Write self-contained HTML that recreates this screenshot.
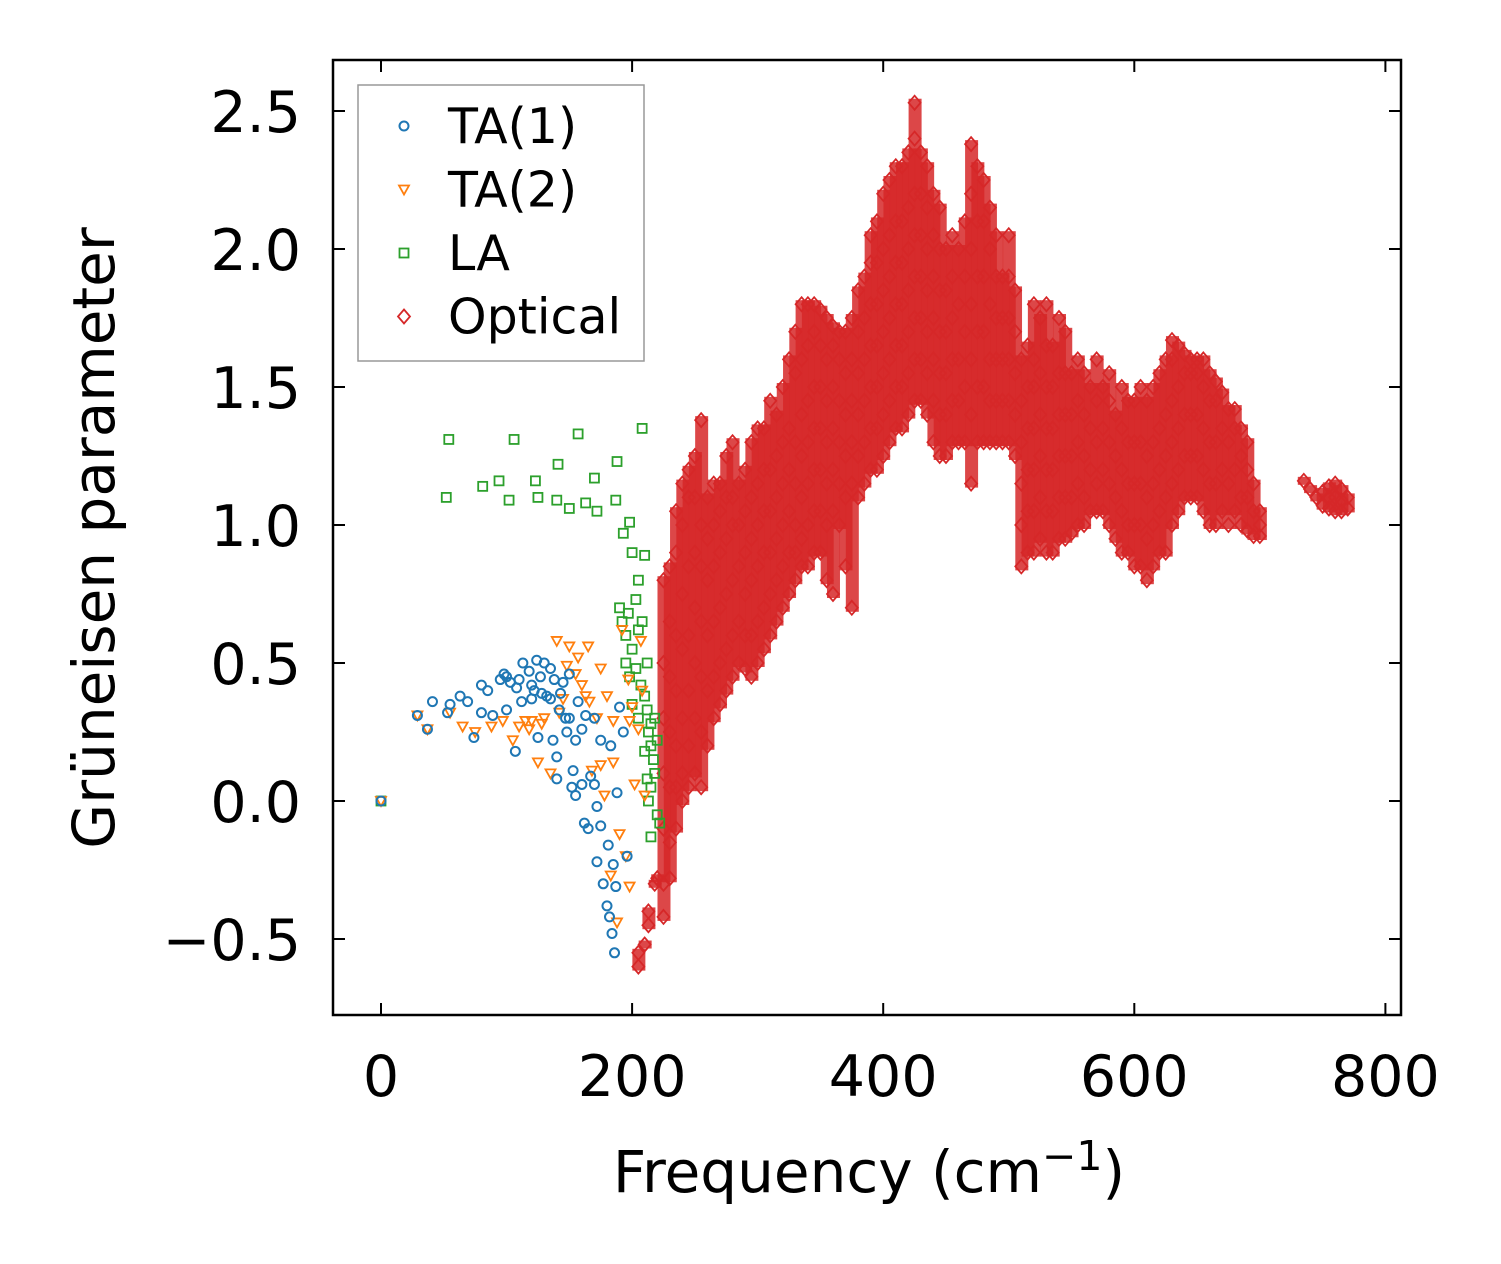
<!DOCTYPE html>
<html><head><meta charset="utf-8">
<style>
html,body{margin:0;padding:0;background:#fff;}
svg{display:block;font-family:"DejaVu Sans","Liberation Sans",sans-serif;}
</style></head>
<body>
<svg id="chart" width="1501" height="1264" viewBox="0 0 1501 1264" xmlns="http://www.w3.org/2000/svg">
<rect x="0" y="0" width="1501" height="1264" fill="#fff"/>
<g id="bands"></g>
<g id="marks"></g>
<rect x="333" y="60" width="1068" height="955" fill="none" stroke="#000" stroke-width="2.5"/>
<g id="axes"></g>
<text x="869" y="1192" font-size="58" text-anchor="middle">Frequency (cm<tspan dy="-22" font-size="41">−1</tspan><tspan dy="22">)</tspan></text>
<text transform="translate(114,538) rotate(-90)" font-size="58" text-anchor="middle">Grüneisen parameter</text>
<g>
<rect x="358" y="85" width="286" height="276" fill="#fff" stroke="#999" stroke-width="1.5"/>
<g id="legend"></g>
</g>
</svg>
<script>
const xTicks = [0,200,400,600,800];
const yTicks = [-0.5,0,0.5,1.0,1.5,2.0,2.5];
const yTickLabels = ["−0.5","0.0","0.5","1.0","1.5","2.0","2.5"];
const seriesNames = ["TA(1)","TA(2)","LA","Optical"];
const ta1 = [[0,0],[29,0.31],[37,0.26],[41,0.36],[53,0.32],[55,0.35],[63,0.38],[69,0.36],[74,0.23],[80,0.42],[80,0.32],[85,0.40],[89,0.31],[95,0.44],[98,0.46],[100,0.33],[103,0.43],[107,0.18],[108,0.41],[112,0.36],[113,0.50],[118,0.47],[120,0.42],[122,0.40],[124,0.51],[125,0.23],[127,0.45],[130,0.50],[132,0.38],[135,0.48],[137,0.22],[138,0.44],[140,0.16],[140,0.08],[142,0.33],[145,0.43],[147,0.30],[148,0.25],[150,0.46],[152,0.05],[153,0.11],[155,0.02],[157,0.36],[160,0.06],[162,-0.08],[163,0.31],[165,-0.10],[167,0.09],[170,0.06],[172,-0.02],[172,-0.22],[175,-0.09],[175,0.22],[177,-0.30],[180,-0.38],[181,-0.16],[182,-0.42],[183,0.20],[184,-0.48],[185,-0.23],[186,-0.55],[187,-0.31],[188,0.03],[190,0.34],[193,0.25],[196,-0.20],[100,0.45],[110,0.44],[120,0.37],[128,0.39],[135,0.37],[143,0.39],[150,0.30],[160,0.26],[155,0.22],[170,0.30]];
const ta2 = [[0,0],[29,0.31],[37,0.26],[55,0.32],[65,0.27],[75,0.25],[88,0.27],[97,0.29],[105,0.22],[110,0.27],[118,0.26],[120,0.29],[125,0.14],[128,0.28],[135,0.10],[140,0.58],[142,0.32],[148,0.49],[150,0.56],[155,0.46],[157,0.52],[160,0.42],[163,0.38],[165,0.56],[168,0.11],[172,0.30],[175,0.48],[178,0.02],[180,0.38],[183,-0.27],[185,0.14],[188,-0.44],[190,-0.12],[192,0.62],[195,-0.20],[197,0.44],[198,-0.31],[200,0.34],[202,0.06],[205,0.26],[207,0.58],[208,0.40],[210,0.02],[198,0.29],[185,0.29],[175,0.13],[166,0.36],[130,0.30],[115,0.29],[145,0.37]];
const la = [[0,0],[52,1.10],[54,1.31],[81,1.14],[94,1.16],[102,1.09],[106,1.31],[123,1.16],[125,1.10],[140,1.09],[141,1.22],[150,1.06],[157,1.33],[163,1.08],[170,1.17],[172,1.05],[187,1.09],[188,1.23],[193,0.97],[198,1.01],[208,1.35],[200,0.90],[210,0.89],[205,0.80],[203,0.73],[190,0.70],[192,0.65],[195,0.60],[200,0.55],[198,0.45],[203,0.48],[207,0.42],[210,0.38],[212,0.33],[215,0.28],[215,0.20],[217,0.15],[218,0.10],[215,0.05],[213,0.00],[220,-0.05],[222,-0.08],[215,-0.13],[213,0.25],[212,0.50],[205,0.62],[197,0.68],[200,0.35],[205,0.30],[210,0.18],[212,0.08],[220,0.22],[218,0.30],[208,0.65],[195,0.50]];
const optical = [
[205,-0.6,-0.55],[210,-0.52],[213,-0.45,-0.40],[218,-0.30],[220,-0.28],
[225,-0.42,-0.3,-0.1,0.1,0.3,0.5,0.8],[230,-0.28,-0.15,0.05,0.25,0.45,0.65,0.85],[235,-0.1,0.05,0.2,0.4,0.6,0.9,1.05],
[240,0.0,0.1,0.3,0.55,0.75,1.0,1.15],[245,0.05,0.2,0.4,0.6,0.85,1.1,1.2],[250,0.1,0.3,0.5,0.7,0.9,1.1,1.25],
[255,0.05,0.25,0.45,0.65,0.85,1.0,1.38],[260,0.2,0.4,0.6,0.8,0.95,1.1],[265,0.3,0.45,0.65,0.85,1.0,1.15],
[270,0.35,0.5,0.7,0.9,1.05,1.15],[275,0.4,0.55,0.75,0.95,1.1,1.25],[280,0.45,0.6,0.8,1.0,1.1,1.3],
[285,0.5,0.65,0.85,1.0,1.15],[290,0.48,0.6,0.75,0.9,1.05,1.2],[295,0.45,0.6,0.8,0.95,1.1,1.3],
[300,0.5,0.65,0.85,1.0,1.15,1.35],[305,0.55,0.7,0.9,1.05,1.2,1.35],[310,0.6,0.75,0.9,1.05,1.2,1.45],
[315,0.65,0.8,0.95,1.1,1.25,1.4],[320,0.7,0.85,1.0,1.15,1.3,1.5],[325,0.75,0.9,1.05,1.2,1.35,1.6],
[330,0.8,0.9,1.0,1.15,1.3,1.55,1.7],[335,0.85,0.95,1.1,1.25,1.4,1.6,1.8],[340,0.85,1.0,1.15,1.3,1.45,1.65,1.8],
[345,0.9,1.05,1.2,1.35,1.5,1.7,1.8],[350,0.9,1.05,1.2,1.35,1.5,1.65,1.78],[355,0.8,1.0,1.15,1.3,1.45,1.6,1.75],
[360,0.75,1.05,1.2,1.35,1.5,1.65,1.72],[365,1.0,1.15,1.3,1.45,1.6,1.7],[370,0.85,1.1,1.25,1.4,1.55,1.7],
[375,0.7,1.15,1.3,1.45,1.6,1.75],[380,1.1,1.25,1.4,1.55,1.7,1.85],[385,1.15,1.3,1.45,1.6,1.75,1.9],
[390,1.2,1.35,1.5,1.65,1.8,1.95,2.05],[395,1.2,1.35,1.5,1.65,1.8,1.95,2.1],[400,1.25,1.4,1.55,1.7,1.85,2.0,2.2],
[405,1.3,1.45,1.6,1.75,1.9,2.05,2.25],[410,1.35,1.5,1.65,1.8,1.95,2.1,2.3],[415,1.35,1.5,1.65,1.8,1.95,2.1,2.3],
[420,1.4,1.55,1.7,1.85,2.0,2.15,2.35],[425,1.45,1.6,1.75,1.9,2.05,2.2,2.4,2.53],[430,1.45,1.6,1.75,1.9,2.05,2.2,2.35],
[435,1.4,1.55,1.7,1.85,2.0,2.15,2.3],[440,1.3,1.45,1.6,1.75,1.9,2.05,2.2],[445,1.25,1.4,1.55,1.7,1.85,2.0,2.15],
[450,1.25,1.4,1.55,1.7,1.85,2.0],[455,1.3,1.45,1.6,1.75,1.9,2.05],[460,1.3,1.45,1.6,1.8,2.0],
[465,1.3,1.5,1.7,1.9,2.1],[470,1.15,1.4,1.6,1.8,2.0,2.2,2.38],[475,1.3,1.5,1.7,1.9,2.1,2.3],
[480,1.3,1.5,1.7,1.9,2.1,2.25],[485,1.3,1.45,1.6,1.8,2.0,2.15],[490,1.3,1.45,1.6,1.75,1.9,2.05],
[495,1.3,1.45,1.6,1.75,1.9],[500,1.3,1.45,1.6,1.75,1.9,2.05],[505,1.25,1.4,1.55,1.7,1.85],
[510,0.85,1.0,1.15,1.3,1.45,1.6],[515,0.9,1.05,1.2,1.35,1.5,1.65],[520,0.9,1.05,1.2,1.35,1.5,1.6,1.8],
[525,0.95,1.1,1.25,1.4,1.55,1.75],[530,0.9,1.05,1.2,1.35,1.5,1.65,1.8],[535,0.9,1.05,1.2,1.35,1.5,1.65],
[540,0.95,1.1,1.25,1.4,1.55,1.75],[545,0.95,1.1,1.25,1.4,1.55,1.7],[550,0.97,1.1,1.25,1.4,1.55],
[555,1.0,1.15,1.3,1.45,1.6],[560,1.0,1.1,1.25,1.4,1.55],[565,1.05,1.2,1.35,1.5],
[570,1.05,1.15,1.3,1.45,1.6],[575,1.05,1.2,1.35,1.5],[580,1.0,1.15,1.3,1.45,1.55],
[585,0.95,1.1,1.25,1.4],[590,0.9,1.05,1.2,1.35,1.5],[595,0.9,1.0,1.15,1.3,1.45],
[600,0.85,1.0,1.15,1.3,1.45],[605,0.85,1.0,1.15,1.3,1.5],[610,0.8,0.95,1.1,1.25,1.45],
[615,0.85,1.0,1.15,1.3,1.5],[620,0.9,1.05,1.2,1.35,1.55],[625,0.9,1.1,1.25,1.4,1.6],
[630,1.0,1.15,1.3,1.45,1.6,1.67],[635,1.05,1.2,1.35,1.5,1.65],[640,1.1,1.25,1.4,1.55,1.62],
[645,1.1,1.25,1.4,1.55,1.6],[650,1.1,1.25,1.4,1.55,1.6],[655,1.05,1.2,1.35,1.5,1.6],
[660,1.0,1.15,1.3,1.45,1.55],[665,1.0,1.15,1.3,1.45,1.52],[670,1.05,1.2,1.35,1.48],
[675,1.0,1.15,1.3,1.42],[680,1.05,1.2,1.35,1.42],[685,1.0,1.1,1.25,1.35],
[690,0.98,1.1,1.2,1.3],[695,0.96,1.05,1.15],[700,0.96,1.0,1.05],
[735,1.16],[740,1.13],[745,1.10],[750,1.07,1.12],[755,1.06,1.1,1.14],[760,1.05,1.1,1.15],[765,1.05,1.09,1.13],[770,1.06,1.1]
];
const colors = ["#1f77b4","#ff7f0e","#2ca02c","#d62728"];

const NS = "http://www.w3.org/2000/svg";
function xs(v){ return 381 + v * 1.2555; }
function ys(v){ return 801 - v * 276; }
function mk(tag, attrs, parent){ const e = document.createElementNS(NS, tag); for (const k in attrs) e.setAttribute(k, attrs[k]); parent.appendChild(e); return e; }
function marker(kind, cx, cy, color, parent){
  let e;
  if (kind === 0) e = mk("circle", {cx:cx, cy:cy, r:4.5, fill:"none", stroke:color, "stroke-width":2}, parent);
  else if (kind === 1) e = mk("polygon", {points:`${cx-5},${cy-4} ${cx+5},${cy-4} ${cx},${cy+5}`, fill:"none", stroke:color, "stroke-width":1.8}, parent);
  else if (kind === 2) e = mk("rect", {x:cx-4.5, y:cy-4.5, width:9, height:9, fill:"none", stroke:color, "stroke-width":1.8}, parent);
  else e = mk("polygon", {points:`${cx},${cy-7} ${cx+6},${cy} ${cx},${cy+7} ${cx-6},${cy}`, fill:"none", stroke:color, "stroke-width":1.8}, parent);
  return e;
}
const bands = document.getElementById("bands");
const marks = document.getElementById("marks");
optical.forEach(col => {
  const f = col[0]; const g = col.slice(1);
  const lo = Math.min(...g), hi = Math.max(...g);
  const r = mk("rect", {x:xs(f)-6, y:ys(hi)-4, width:13, height:(ys(lo)-ys(hi))+8, fill:"#d62728", opacity:0.85}, bands);
  
  
});
optical.forEach(col => {
  col.slice(1).forEach(g => {
    const m = marker(3, xs(col[0]), ys(g), colors[3], marks);
    
    
  });
});
la.forEach(p => {
  const m = marker(2, xs(p[0]), ys(p[1]), colors[2], marks);
  
  
});
ta2.forEach(p => {
  const m = marker(1, xs(p[0]), ys(p[1]), colors[1], marks);
  
  
});
ta1.forEach(p => {
  const m = marker(0, xs(p[0]), ys(p[1]), colors[0], marks);
  
  
});
const axes = document.getElementById("axes");
xTicks.forEach(t => {
  const x = xs(t);
  const a = mk("line", {x1:x, x2:x, y1:1015, y2:1003, stroke:"#000", "stroke-width":2}, axes);
  
  
  const b = mk("line", {x1:x, x2:x, y1:60, y2:72, stroke:"#000", "stroke-width":2}, axes);
  
  
  const tx = mk("text", {x:x, y:1096, "font-size":57, "text-anchor":"middle"}, axes);
  tx.textContent = String(t);
  
  
});
yTicks.forEach((t, i) => {
  const y = ys(t);
  const a = mk("line", {x1:333, x2:345, y1:y, y2:y, stroke:"#000", "stroke-width":2}, axes);
  
  
  const b = mk("line", {x1:1389, x2:1401, y1:y, y2:y, stroke:"#000", "stroke-width":2}, axes);
  
  
  const tx = mk("text", {x:301, y:y+21, "font-size":57, "text-anchor":"end"}, axes);
  tx.textContent = yTickLabels[i];
  
  
});
const legend = document.getElementById("legend");
seriesNames.forEach((n, i) => {
  const y = 126 + i * 63.5;
  const m = marker(i, 404, y, colors[i], legend);
  
  
  const tx = mk("text", {x:448, y:y+17, "font-size":49}, legend);
  tx.textContent = n;
  
  
});
</script>
</body></html>
